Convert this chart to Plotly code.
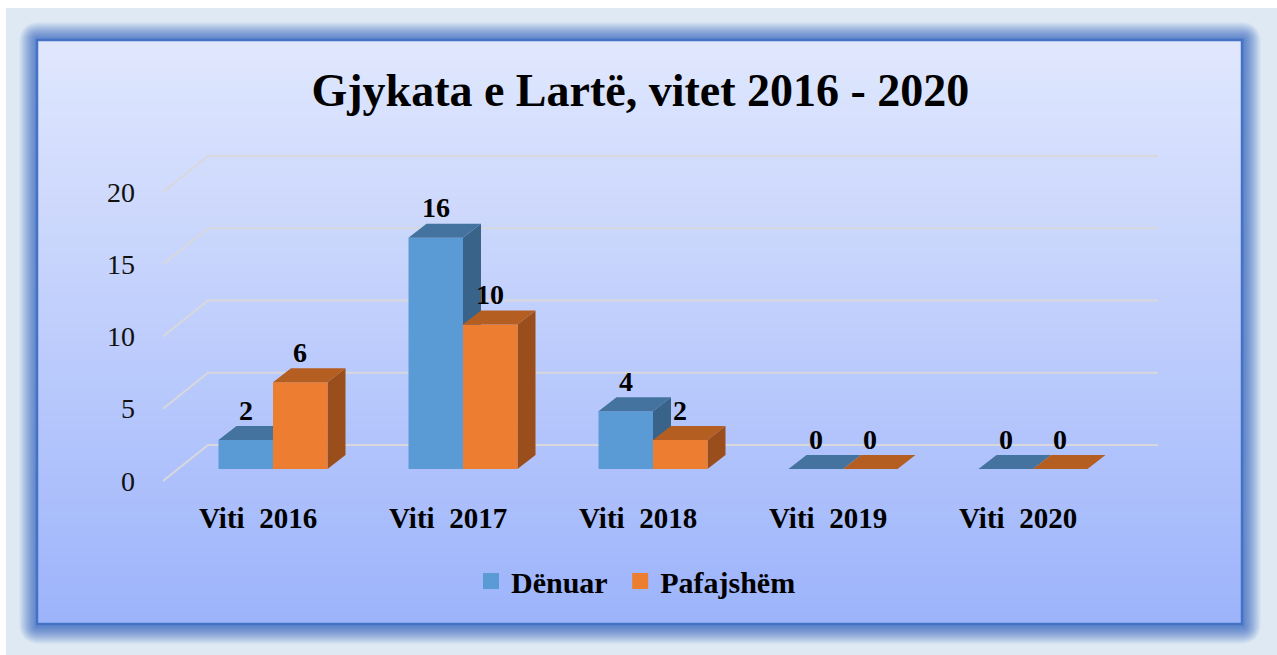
import plotly.graph_objects as go

# ---------------- data ----------------
categories = ["Viti\u00a0\u00a02016", "Viti\u00a0\u00a02017", "Viti\u00a0\u00a02018", "Viti\u00a0\u00a02019", "Viti\u00a0\u00a02020"]
denuar = [2, 16, 4, 0, 0]
pafajshem = [6, 10, 2, 0, 0]
y_ticks = [0, 5, 10, 15, 20]
series_names = ["Dënuar", "Pafajshëm"]
title_text = "Gjykata e Lartë, vitet 2016 - 2020"

# ---------------- layout constants (pixels) ----------------
W, H = 1277, 655
PX_X = 190.0    # pixels per category step
PX_Y = 14.45    # pixels per value unit
X0_PX = 273.0   # pixel x of category 0 (bar front plane)
Y0_PX = 469.0   # pixel y of value 0 (bar front plane)
x_range = [(0 - X0_PX) / PX_X, (W - X0_PX) / PX_X]
y_range = [(Y0_PX - H) / PX_Y, (Y0_PX - 0) / PX_Y]


def ox(p):  # pixel offset to the right -> data units
    return p / PX_X


def oy(p):  # pixel offset upward -> data units
    return p / PX_Y


BW = ox(54.5)                 # bar width
TOP_DX, TOP_DY = ox(18), oy(14)   # bar depth
BACK_DX, BACK_DY = ox(30), oy(24)  # back wall offset from bar plane
FRONT_DX, FRONT_DY = ox(-15), oy(-12)  # floor front offset from bar plane
X_LEFT, X_RIGHT = -0.5, len(categories) - 0.5

FONT = "Liberation Serif"
BLUE = dict(front="#5b9bd5", top="#44739f", side="#3a6389")
ORANGE = dict(front="#ed7d31", top="#b55e22", side="#9a4e1c")
GRID = "#d8d8dc"

fig = go.Figure()

# ---------------- background (figure-fraction shapes) ----------------
def fx(p):
    return p / W


def fy(p):
    return 1 - p / H


shapes = []
# page
shapes.append(dict(type="rect", xref="paper", yref="paper", x0=fx(6), x1=fx(W), y0=fy(H), y1=fy(8),
                   fillcolor="#dfe9f4", line=dict(width=0), layer="below"))
# glow (soft, rounded)
PX0, PY0, PX1, PY1 = 37, 40, 1242, 624


def rounded_rect(x0, y0, x1, y1, r):
    # pixel coords (y down) -> SVG path in paper fractions
    pts = []
    pts.append("M %f,%f" % (fx(x0 + r), fy(y0)))
    pts.append("L %f,%f" % (fx(x1 - r), fy(y0)))
    pts.append("Q %f,%f %f,%f" % (fx(x1), fy(y0), fx(x1), fy(y0 + r)))
    pts.append("L %f,%f" % (fx(x1), fy(y1 - r)))
    pts.append("Q %f,%f %f,%f" % (fx(x1), fy(y1), fx(x1 - r), fy(y1)))
    pts.append("L %f,%f" % (fx(x0 + r), fy(y1)))
    pts.append("Q %f,%f %f,%f" % (fx(x0), fy(y1), fx(x0), fy(y1 - r)))
    pts.append("L %f,%f" % (fx(x0), fy(y0 + r)))
    pts.append("Q %f,%f %f,%f" % (fx(x0), fy(y0), fx(x0 + r), fy(y0)))
    return " ".join(pts) + " Z"


for k in range(18, 0, -1):
    shapes.append(dict(type="path", xref="paper", yref="paper",
                       path=rounded_rect(PX0 - k, PY0 - k, PX1 + k + 1, PY1 + k + 2, k * 1.2),
                       fillcolor="#4472c4", opacity=0.05 + 0.004 * (18 - k), line=dict(width=0), layer="below"))
# gradient panel
c_top = (224, 231, 253)
c_bot = (157, 180, 251)
N = 60
for j in range(N):
    t = j / (N - 1)
    c = tuple(round(c_top[m] + (c_bot[m] - c_top[m]) * t) for m in range(3))
    y_a = PY0 + (PY1 - PY0) * j / N
    y_b = PY0 + (PY1 - PY0) * (j + 1) / N + 1
    shapes.append(dict(type="rect", xref="paper", yref="paper", x0=fx(PX0), x1=fx(PX1),
                       y0=fy(min(y_b, PY1)), y1=fy(y_a),
                       fillcolor="rgb(%d,%d,%d)" % c, line=dict(width=0), layer="below"))
# border
shapes.append(dict(type="rect", xref="paper", yref="paper", x0=fx(PX0), x1=fx(PX1), y0=fy(PY1), y1=fy(PY0),
                   fillcolor="rgba(0,0,0,0)", line=dict(color="#4472c4", width=2.5), layer="below"))

# ---------------- gridlines (back wall + floor diagonals) ----------------
gx, gy = [], []
for t in y_ticks:
    gx += [X_LEFT + FRONT_DX, X_LEFT + BACK_DX, X_RIGHT + BACK_DX, None]
    gy += [t + FRONT_DY, t + BACK_DY, t + BACK_DY, None]
fig.add_trace(go.Scatter(x=gx, y=gy, mode="lines", line=dict(color=GRID, width=2),
                         hoverinfo="skip", showlegend=False))


# ---------------- 3D bars ----------------
def faces(values, offset):
    fr_x, fr_y, tp_x, tp_y, sd_x, sd_y = [], [], [], [], [], []
    for i, v in enumerate(values):
        xl = i + offset
        xr = xl + BW
        fr_x += [xl, xr, xr, xl, xl, None]
        fr_y += [0, 0, v, v, 0, None]
        tp_x += [xl, xl + TOP_DX, xr + TOP_DX, xr, xl, None]
        tp_y += [v, v + TOP_DY, v + TOP_DY, v, v, None]
        sd_x += [xr, xr + TOP_DX, xr + TOP_DX, xr, xr, None]
        sd_y += [0, TOP_DY, v + TOP_DY, v, 0, None]
    return (fr_x, fr_y), (tp_x, tp_y), (sd_x, sd_y)


for values, offset, col in [(denuar, -BW, BLUE), (pafajshem, 0.0, ORANGE)]:
    fr, tp, sd = faces(values, offset)
    for (xs, ys), key in [(sd, "side"), (fr, "front"), (tp, "top")]:
        fig.add_trace(go.Scatter(x=xs, y=ys, mode="lines", fill="toself",
                                 fillcolor=col[key], line=dict(width=0, color=col[key]),
                                 hoverinfo="skip", showlegend=False))

# legend entries (a trailing no-break space widens the gap between entries)
for k, (name, col) in enumerate(zip(series_names, [BLUE, ORANGE])):
    label = "<b>%s</b>" % name + ("\u00a0" if k == 0 else "")
    fig.add_trace(go.Scatter(x=[None], y=[None], mode="markers", name=label,
                             marker=dict(symbol="square", size=17, color=col["front"])))

# ---------------- annotations ----------------
ann = []
for t in y_ticks:
    ann.append(dict(x=X_LEFT + FRONT_DX, y=t + FRONT_DY, xref="x", yref="y", text=str(t),
                    showarrow=False, xanchor="right", yanchor="middle", xshift=-26,
                    font=dict(family=FONT, size=28, color="#111111")))
for i, c in enumerate(categories):
    ann.append(dict(x=i + FRONT_DX, y=FRONT_DY, xref="x", yref="y", text="<b>%s</b>" % c,
                    showarrow=False, xanchor="center", yanchor="middle", yshift=-37,
                    font=dict(family=FONT, size=29, color="#000000")))
for values, offset in [(denuar, -BW / 2), (pafajshem, BW / 2)]:
    for i, v in enumerate(values):
        ann.append(dict(x=i + offset, y=v, xref="x", yref="y", text="<b>%d</b>" % v,
                        showarrow=False, xanchor="center", yanchor="middle", yshift=30,
                        font=dict(family=FONT, size=28, color="#000000")))

fig.update_layout(
    width=W, height=H,
    margin=dict(l=0, r=0, t=0, b=0),
    paper_bgcolor="white", plot_bgcolor="rgba(0,0,0,0)",
    xaxis=dict(range=x_range, visible=False, fixedrange=True),
    yaxis=dict(range=y_range, visible=False, fixedrange=True),
    shapes=shapes, annotations=ann,
    title=dict(text="<b>%s</b>" % title_text, x=0.5015, xanchor="center", y=1 - 90 / H,
               yanchor="middle", yref="container",
               font=dict(family=FONT, size=46, color="#000000")),
    legend=dict(orientation="h", x=636 / W, xanchor="center", y=1 - 581 / H, yanchor="middle",
                bgcolor="rgba(0,0,0,0)", font=dict(family=FONT, size=30, color="#000000"),
                itemclick=False, itemdoubleclick=False),
    showlegend=True,
)

fig.write_html(
    "out.html",
    config={"displayModeBar": False},
    post_script="document.body.style.margin='0';document.body.style.overflow='hidden';",
)
